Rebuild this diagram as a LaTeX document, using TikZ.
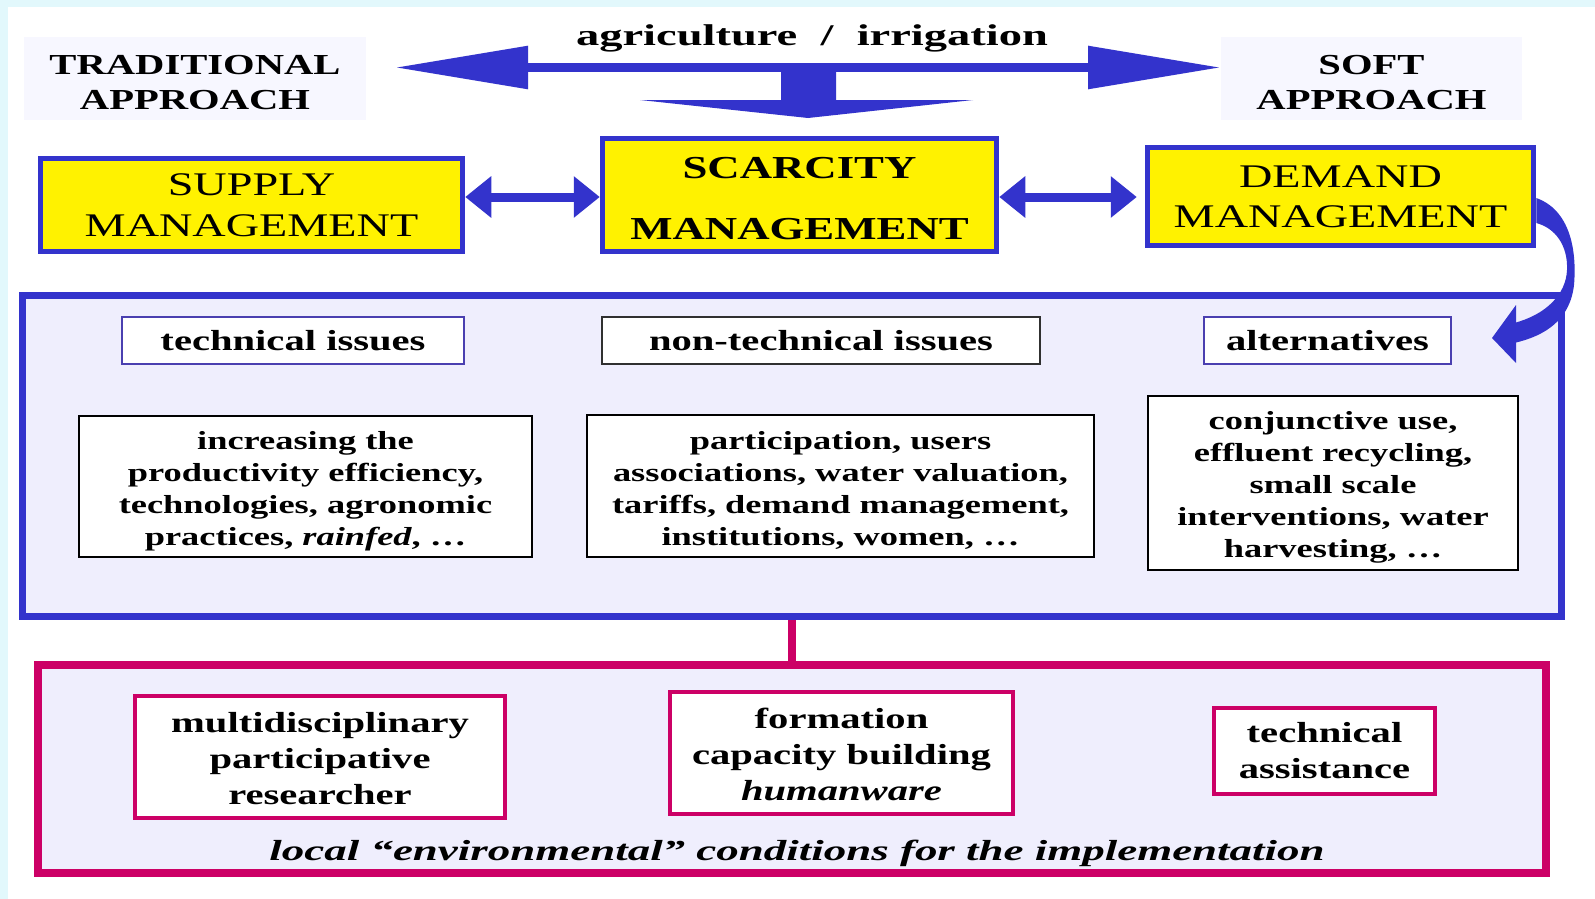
\documentclass[tikz,border=0pt]{standalone}
\usepackage{fontspec}
\setmainfont{Liberation Serif}[FakeStretch=1.4]
\newfontfamily\widefont{Liberation Serif}[FakeStretch=1.55]
\usetikzlibrary{arrows.meta}
\definecolor{myblue}{HTML}{3333CC}
\definecolor{mymag}{HTML}{CC0066}
\definecolor{lav}{HTML}{EFEEFD}
\definecolor{lavtwo}{HTML}{F7F7FF}
\definecolor{cyanbg}{HTML}{E2F8FC}
\definecolor{darkborder}{HTML}{303030}
\definecolor{purpleborder}{HTML}{4A3FB0}
\begin{document}
\begin{tikzpicture}[x=1pt,y=-1pt,
  approach/.style={fill=lavtwo, draw=none, inner sep=0pt, align=center,
    font=\bfseries\fontsize{29}{35}\selectfont},
  yellowbox/.style={draw=myblue, line width=5.5pt, fill=yellow, inner sep=0pt, align=center},
  dblarrow/.style={myblue, line width=9pt, {Triangle[length=26pt,width=40pt]}-{Triangle[length=26pt,width=40pt]}},
  titlebox/.style={draw=#1, line width=1.5pt, fill=white, inner sep=0pt, minimum height=47pt,
    font=\bfseries\fontsize{29}{32}\selectfont},
  contentbox/.style={draw=black, line width=2pt, fill=white, inner sep=0pt, align=center,
    font=\bfseries\fontsize{26}{32}\selectfont},
  magbox/.style={draw=mymag, line width=4pt, fill=white, inner sep=0pt, align=center,
    font=\bfseries\fontsize{29}{36}\selectfont}
]
\useasboundingbox (0,0) rectangle (1595,899);
\fill[cyanbg] (0,0) rectangle (1595,899);
\fill[white] (8,7) rectangle (1595,899);

% top row
\node[approach, minimum width=342pt, minimum height=83pt] (trad) at (195,78.5) {\rule{0pt}{27pt}TRADITIONAL\\APPROACH};
\node[approach, minimum width=301pt, minimum height=83pt] (soft) at (1371.5,78.5) {\rule{0pt}{27pt}SOFT\\APPROACH};
\node[font=\widefont\bfseries\fontsize{30}{34}\selectfont, inner sep=0pt] (agri) at (812,38) {agriculture~~/~~irrigation};

\coordinate (lefttip) at (395,67.5);
\coordinate (righttip) at (1221,67.5);
\draw[myblue, line width=9pt, {Triangle[length=133pt,width=41pt]}-{Triangle[length=133pt,width=41pt]}] (lefttip) -- (righttip);
\fill[myblue] (781,64) -- (781,100) -- (640,100) -- (808,118) -- (973,100) -- (836,100) -- (836,64) -- cycle;

% management row
\node[yellowbox, minimum width=422pt, minimum height=93pt,
  font=\fontsize{33}{41}\selectfont] (supply) at (251.5,205) {SUPPLY\\MANAGEMENT};
\node[yellowbox, minimum width=394pt, minimum height=113pt,
  font=\bfseries\fontsize{32}{61}\selectfont] (scarcity) at (799.5,195) {\rule{0pt}{28pt}SCARCITY\\MANAGEMENT};
\node[yellowbox, minimum width=386pt, minimum height=98pt,
  font=\fontsize{33}{40}\selectfont] (demand) at (1340.5,196.5) {DEMAND\\MANAGEMENT};

\draw[dblarrow] (supply.east |- 0,197) -- (scarcity.west |- 0,197);
\draw[dblarrow] (scarcity.east |- 0,197) -- ([xshift=-8pt]demand.west |- 0,197);

% middle panel
\node[draw=myblue, line width=7pt, fill=lav, minimum width=1539pt, minimum height=321pt, inner sep=0pt] (midbox) at (792,456) {};

% curved arrow from DEMAND to alternatives
\fill[myblue] (demand.east |- 0,198) .. controls (1570,210) and (1577,250) .. (1574,285)
  .. controls (1570,320) and (1545,336) .. (1514,343)
  -- (1514,323) .. controls (1545,315) and (1566,295) .. (1567,270)
  .. controls (1568,245) and (1555,228) .. (demand.east |- 0,223) -- cycle;
\fill[myblue] (1516,305) -- (1492,338) -- (1516,363) -- cycle;

\node[titlebox=purpleborder, minimum width=342pt] (tech) at (293,340.5) {technical issues};
\node[titlebox=darkborder, minimum width=438pt] (nontech) at (821,340.5) {non-technical issues};
\node[titlebox=purpleborder, minimum width=247pt] (alt) at (1327.5,340.5) {alternatives};

\node[contentbox, minimum width=453pt, minimum height=141pt] (c1) at (305.5,486.5)
  {\rule{0pt}{28pt}increasing the\\productivity efficiency,\\technologies, agronomic\\practices, \textit{rainfed}, …};
\node[contentbox, minimum width=507pt, minimum height=142pt] (c2) at (840.5,486)
  {\rule{0pt}{27pt}participation, users\\associations, water valuation,\\tariffs, demand management,\\institutions, women, …};
\node[contentbox, minimum width=370pt, minimum height=174pt] (c3) at (1333,483)
  {\rule{0pt}{26pt}conjunctive use,\\effluent recycling,\\small scale\\interventions, water\\harvesting, …};

% bottom panel
\node[draw=mymag, line width=8pt, fill=lav, minimum width=1508pt, minimum height=208pt, inner sep=0pt] (botbox) at (792,769) {};
\draw[mymag, line width=8pt] (midbox.south) -- (botbox.north);

\node[magbox, minimum width=370pt, minimum height=122pt] (b1) at (320,757)
  {\rule{0pt}{24pt}multidisciplinary\\participative\\researcher};
\node[magbox, minimum width=343pt, minimum height=122pt] (b2) at (841.5,753)
  {\rule{0pt}{24pt}formation\\capacity building\\\textit{humanware}};
\node[magbox, minimum width=221pt, minimum height=86pt] (b3) at (1324.5,751)
  {technical\\assistance};
\node[font=\widefont\bfseries\itshape\fontsize{29}{32}\selectfont, inner sep=0pt] (local) at (797,853)
  {local “environmental” conditions for the implementation};
\end{tikzpicture}
\end{document}
